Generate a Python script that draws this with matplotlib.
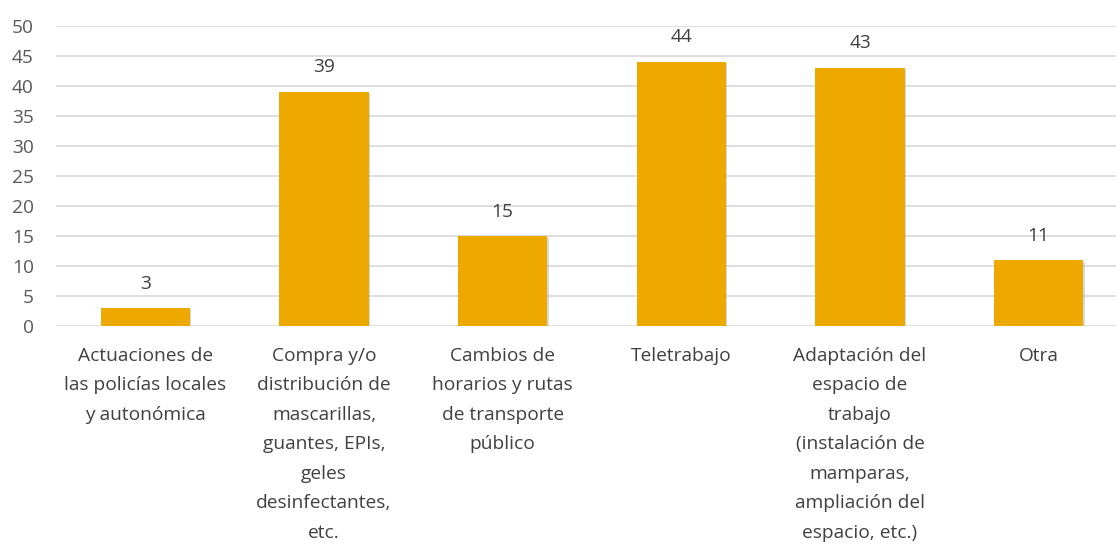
import matplotlib.pyplot as plt
from matplotlib import patheffects as pe

categories = [
    "Actuaciones de\nlas policías locales\ny autonómica",
    "Compra y/o\ndistribución de\nmascarillas,\nguantes, EPIs,\ngeles\ndesinfectantes,\netc.",
    "Cambios de\nhorarios y rutas\nde transporte\npúblico",
    "Teletrabajo",
    "Adaptación del\nespacio de\ntrabajo\n(instalación de\nmamparas,\nampliación del\nespacio, etc.)",
    "Otra",
]
values = [3, 39, 15, 44, 43, 11]
yticks = [0, 5, 10, 15, 20, 25, 30, 35, 40, 45, 50]

plt.rcParams['font.family'] = ['Open Sans', 'DejaVu Sans']

W, H = 1116, 545
fig = plt.figure(figsize=(W / 100, H / 100), dpi=100)
left, right = 56 / W, 1128 / W
top, bottom = 1 - 25.7 / H, 1 - 326 / H
ax = fig.add_axes([left, bottom, right - left, top - bottom])

x = range(len(values))
bars = ax.bar(x, values, width=0.5, color='#EDA900', zorder=3)
for b in bars:
    b.set_path_effects([pe.SimplePatchShadow(offset=(1, -1.5), shadow_rgbFace='#aaaaaa', alpha=0.45), pe.Normal()])

for xi, v in zip(x, values):
    ax.annotate(str(v), (xi, v), xytext=(0, 11), textcoords='offset points',
                ha='center', va='bottom', fontsize=13.8, color='#404040')

ax.set_xlim(-0.5, len(values) - 0.5)
ax.set_ylim(0, 50)
ax.set_yticks(yticks)
ax.set_xticks(list(x))
ax.set_xticklabels(categories, fontsize=13.8, color='#404040', linespacing=1.82, va='top')
ax.tick_params(axis='y', labelsize=13.8, labelcolor='#595959', length=0, pad=16)
ax.tick_params(axis='x', length=0, pad=15)
ax.grid(axis='y', color='#d9d9d9', linewidth=1.2, zorder=0)
for s in ax.spines.values():
    s.set_visible(False)

fig.savefig('out.png', dpi=100)
